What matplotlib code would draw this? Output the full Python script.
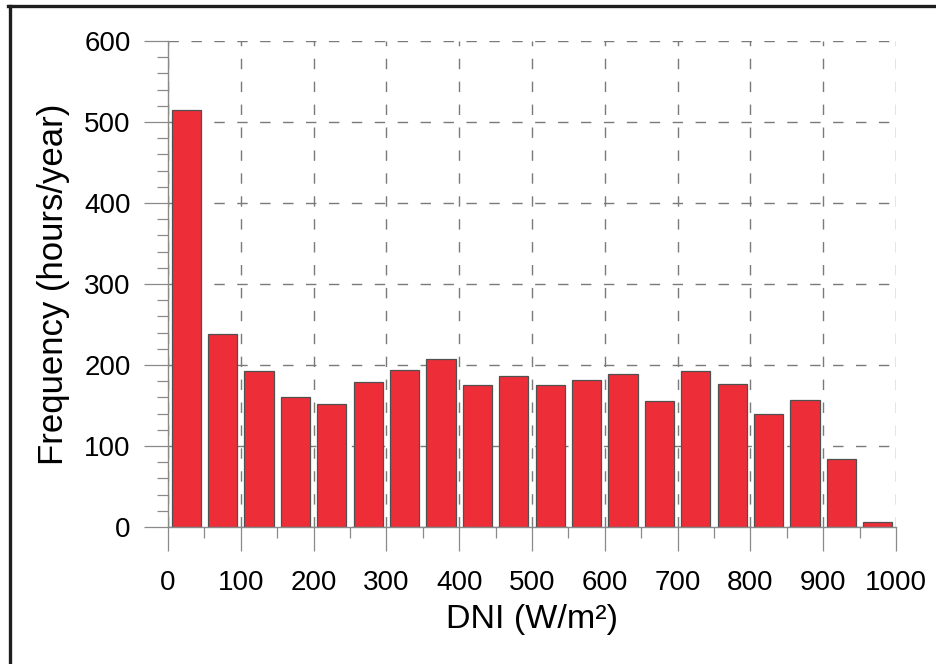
import matplotlib
matplotlib.use("Agg")
import matplotlib.pyplot as plt
from matplotlib.lines import Line2D
from matplotlib.ticker import MultipleLocator

plt.rcParams['font.family'] = ['Liberation Sans', 'DejaVu Sans']

# DNI bins (W/m2), 50 wide, and hours per year in each
bin_left = [0, 50, 100, 150, 200, 250, 300, 350, 400, 450,
            500, 550, 600, 650, 700, 750, 800, 850, 900, 950]
hours = [515, 238, 193, 160, 152, 179, 194, 207, 175, 186,
         175, 182, 189, 155, 192, 176, 140, 157, 84, 6]

bar_color = '#ED2E38'
grid_gray = '#7a7a7a'
axis_gray = '#8a8a8a'

fig = plt.figure(figsize=(9.36, 6.64), dpi=100)
ax = fig.add_axes([0.1795, 0.2063, 0.9573 - 0.1795, 0.9383 - 0.2063])

centers = [b + 25 for b in bin_left]
ax.bar(centers, hours, width=40, color=bar_color, edgecolor='#505050',
       linewidth=0.9, zorder=3)

ax.set_xlim(0, 1000)
ax.set_ylim(0, 600)
ax.xaxis.set_major_locator(MultipleLocator(100))
ax.xaxis.set_minor_locator(MultipleLocator(50))
ax.yaxis.set_major_locator(MultipleLocator(100))
ax.yaxis.set_minor_locator(MultipleLocator(20))

ax.grid(True, which='major', color=grid_gray, linestyle=(0, (7.5, 9.0)),
        linewidth=1.0, zorder=0)
ax.set_axisbelow(True)

for s in ['top', 'right']:
    ax.spines[s].set_visible(False)
for s in ['left', 'bottom']:
    ax.spines[s].set_color(axis_gray)
    ax.spines[s].set_linewidth(1.0)
    ax.spines[s].set_zorder(4)

ax.tick_params(which='major', direction='out', length=17, width=0.9,
               color=axis_gray, labelsize=20, labelcolor='black')
ax.tick_params(which='minor', direction='out', length=8, width=0.9,
               color=axis_gray)
ax.tick_params(axis='x', which='major', pad=14)
ax.tick_params(axis='y', which='major', pad=10)

ax.set_xlabel('DNI (W/m²)', fontsize=24.5, labelpad=6)
ax.set_ylabel('Frequency (hours/year)', fontsize=25, labelpad=10)

# outer frame (top and left edges visible in the crop)
fig.add_artist(Line2D([8 / 936, 935 / 936], [1 - 6 / 664, 1 - 6 / 664],
                      transform=fig.transFigure, color='#1e1e1e', linewidth=2.4))
fig.add_artist(Line2D([9.5 / 936, 9.5 / 936], [0, 1 - 6 / 664],
                      transform=fig.transFigure, color='#1e1e1e', linewidth=2.4))

fig.savefig('out.png', dpi=100)
